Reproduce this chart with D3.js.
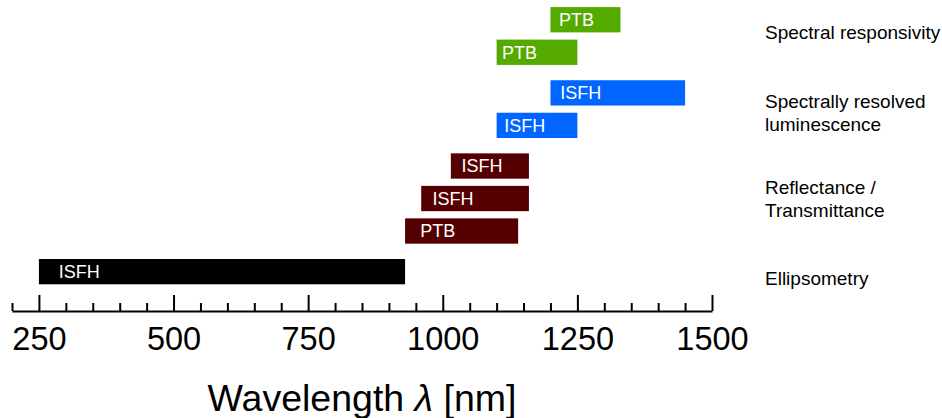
<!DOCTYPE html>
<html>
<head>
<meta charset="utf-8">
<script src="https://cdn.jsdelivr.net/npm/d3@7"></script>
<style>
  html, body { margin: 0; padding: 0; background: #fff; }
  svg { display: block; font-family: "Liberation Sans", Arial, Helvetica, sans-serif; }
</style>
</head>
<body>
<svg id="chart" width="942" height="418"></svg>
<script>
// ---- data ----
const barLabels   = ["ISFH", "PTB", "ISFH", "ISFH", "ISFH", "ISFH", "PTB", "PTB"];
const barStart    = [250, 930, 960, 1015, 1100, 1200, 1100, 1200];
const barEnd      = [930, 1140, 1160, 1160, 1250, 1450, 1250, 1330];
const barLabelAt  = [287, 958, 981, 1035, 1114, 1218, 1110, 1216];
const barRow      = [0, 1.25, 2.25, 3.25, 4.5, 5.5, 6.75, 7.75];
const barCategory = ["Ellipsometry", "RT", "RT", "RT", "SRL", "SRL", "SR", "SR"];

const categories     = ["Ellipsometry", "RT", "SRL", "SR"];
const categoryLines  = [["Ellipsometry"], ["Reflectance /", "Transmittance"], ["Spectrally resolved", "luminescence"], ["Spectral responsivity"]];
const categoryRow    = [-0.2, 2.23, 4.88, 7.36];
const categoryColors = ["#000000", "#550000", "#0066ff", "#55aa00"];

const majorTicks = [250, 500, 750, 1000, 1250, 1500];
const minorTicks = [200, 300, 350, 400, 450, 550, 600, 650, 700, 800, 850, 900, 950, 1050, 1100, 1150, 1200, 1300, 1350, 1400, 1450];
const xDomain = [200, 1500];
const axisTitle = "Wavelength ";
const axisSymbol = "λ";
const axisUnit = " [nm]";

// ---- layout ----
const svg = d3.select("#chart");
const x = d3.scaleLinear().domain(xDomain).range([12, 712]);
const y = d3.scaleLinear().domain([0, 7.75]).range([259, 7.1]);
const barH = 25.3;
const axisY = 311;
const color = d3.scaleOrdinal().domain(categories).range(categoryColors);

const bars = barLabels.map((l, i) => ({
  label: l, start: barStart[i], end: barEnd[i], at: barLabelAt[i], row: barRow[i], cat: barCategory[i]
}));

const g = svg.append("g");
g.selectAll("rect.bar").data(bars).join("rect")
  .attr("class", "bar")
  .attr("x", d => x(d.start))
  .attr("y", d => y(d.row))
  .attr("width", d => x(d.end) - x(d.start))
  .attr("height", barH)
  .attr("fill", d => color(d.cat));

g.selectAll("text.barlabel").data(bars).join("text")
  .attr("class", "barlabel")
  .attr("x", d => x(d.at))
  .attr("y", d => y(d.row) + 19)
  .attr("fill", "#fff")
  .attr("font-size", 18)
  .text(d => d.label);

// category labels
const cats = categories.map((c, i) => ({ lines: categoryLines[i], row: categoryRow[i] }));
const lineH = 23;
const catG = svg.selectAll("text.cat").data(cats).join("text")
  .attr("class", "cat")
  .attr("font-size", 19)
  .attr("fill", "#000");
catG.each(function(d) {
  const t = d3.select(this);
  const mid = y(d.row) + barH / 2;
  const n = d.lines.length;
  d.lines.forEach((ln, k) => {
    t.append("tspan")
      .attr("x", 765)
      .attr("y", mid + 6.8 + (k - (n - 1) / 2) * lineH)
      .text(ln);
  });
});

// axis: minor ticks
const minorAxis = d3.axisBottom(x).tickValues(minorTicks).tickSizeInner(-8).tickSizeOuter(0).tickFormat("");
const minorG = svg.append("g").attr("transform", `translate(0,${axisY})`).call(minorAxis);
minorG.select(".domain").remove();
minorG.selectAll(".tick line").attr("stroke", "#000").attr("stroke-width", 2);

// axis: major ticks + labels
const majorAxis = d3.axisBottom(x).tickValues(majorTicks).tickSizeInner(-16).tickSizeOuter(0).tickFormat(d3.format("d"));
const majorG = svg.append("g").attr("transform", `translate(0,${axisY})`).call(majorAxis);
majorG.select(".domain").attr("stroke", "#000").attr("stroke-width", 2.2);
majorG.selectAll(".tick line").attr("stroke", "#000").attr("stroke-width", 2);
majorG.selectAll(".tick text")
  .attr("y", 39).attr("dy", null)
  .attr("font-size", 32.5)
  .attr("font-family", "Liberation Sans, Arial, sans-serif")
  .attr("fill", "#000");

// axis title
const title = svg.append("text")
  .attr("x", 362).attr("y", 411)
  .attr("text-anchor", "middle")
  .attr("font-size", 37.5)
  .attr("fill", "#000");
title.append("tspan").text(axisTitle);
title.append("tspan").attr("font-style", "italic").text(axisSymbol);
title.append("tspan").text(axisUnit);
</script>
</body>
</html>
